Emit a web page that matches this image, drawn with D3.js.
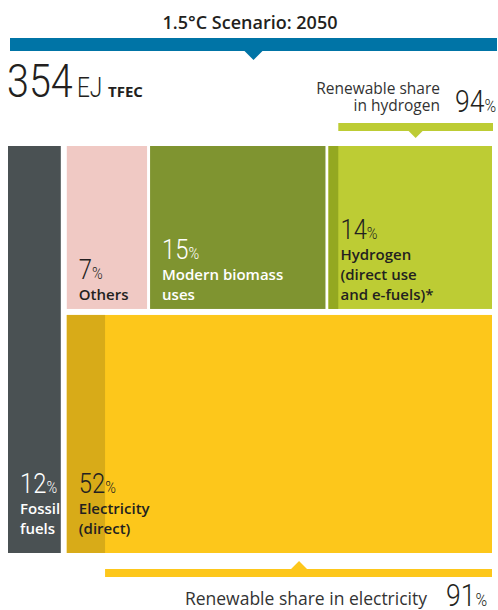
<!DOCTYPE html>
<html>
<head>
<meta charset="utf-8">
<script src="https://cdn.jsdelivr.net/npm/d3@7"></script>
<style>
  body { margin: 0; background: #fff; }
  svg { display: block; }
</style>
</head>
<body>
<svg width="498" height="610"></svg>
<script>
// values
var title = "1.5°C Scenario: 2050";
var totalEJ = 354;
var categories = ["fossil", "others", "biomass", "hydrogen", "electricity"];
var shares = [12, 7, 15, 14, 52];
var labels = [["Fossil", "fuels"], ["Others"], ["Modern biomass", "uses"],
              ["Hydrogen", "(direct use", "and e-fuels)*"], ["Electricity", "(direct)"]];
var colors = ["#4a5153", "#f0c9c4", "#7f9430", "#bdcc34", "#fdc71b"];
var darkColors = { hydrogen: "#94a821", electricity: "#d8ab18" };
var renewable = { hydrogen: 94, electricity: 91 };
var renewableLabels = { hydrogen: ["Renewable share", "in hydrogen"], electricity: ["Renewable share in electricity"] };
var whiteText = ["fossil", "biomass"];

var svg = d3.select("svg");
var W = 498;
var ink = "#231f20";
var numFont = "Roboto, sans-serif";
var txtFont = "'Open Sans', sans-serif";

function leaf(i) {
  return { name: categories[i], value: shares[i], idx: i };
}

var root = d3.hierarchy({
  children: [
    leaf(0),
    { children: [ { children: [leaf(1), leaf(2), leaf(3)] }, leaf(4) ] }
  ]
}).sum(function(d) { return d.value || 0; });

// chart area: x 8..492, y 146..553
d3.treemap()
  .tile(d3.treemapSliceDice)
  .size([484, 407])
  .paddingInner(function(n) { return n.depth === 2 ? 3 : 6; })
  (root);
root.each(function(n) { n.x0 += 8; n.x1 += 8; n.y0 += 146; n.y1 += 146; });

var leaves = root.leaves();
var byName = {};
leaves.forEach(function(d) { byName[d.data.name] = d; });

// title + blue bar
svg.append("text")
  .attr("x", W / 2 + 1).attr("y", 29)
  .attr("text-anchor", "middle")
  .attr("font-family", txtFont).attr("font-weight", 600)
  .attr("font-size", 18).attr("fill", ink)
  .text(title);

svg.append("rect").attr("x", 10).attr("y", 38).attr("width", 487).attr("height", 13).attr("fill", "#0074a6");
svg.append("path")
  .attr("d", "M" + (253.5 - 10) + ",50 L253.5,60 L" + (253.5 + 10) + ",50 Z")
  .attr("fill", "#0074a6");

// 354 EJ TFEC
var tot = svg.append("text")
  .attr("transform", "translate(7,97) scale(0.84,1)")
  .attr("font-family", numFont).attr("font-weight", 300).attr("fill", ink);
tot.append("tspan").attr("font-size", 47).text(totalEJ);
tot.append("tspan").attr("font-size", 27).attr("dx", 5).text("EJ");
svg.append("text")
  .attr("x", 108).attr("y", 97)
  .attr("font-family", txtFont).attr("font-weight", 700)
  .attr("font-size", 15).attr("fill", ink)
  .text("TFEC");

// blocks
svg.selectAll("rect.block")
  .data(leaves)
  .enter().append("rect")
  .attr("class", "block")
  .attr("x", function(d) { return d.x0; })
  .attr("y", function(d) { return d.y0; })
  .attr("width", function(d) { return d.x1 - d.x0; })
  .attr("height", function(d) { return d.y1 - d.y0; })
  .attr("fill", function(d) { return colors[d.data.idx]; });

// non renewable strips and renewable bars
Object.keys(renewable).forEach(function(k) {
  var d = byName[k];
  var x = d3.scaleLinear().domain([0, 100]).range([d.x0, d.x1]);
  var xs = x(100 - renewable[k]);
  svg.append("rect")
    .attr("x", d.x0).attr("y", d.y0)
    .attr("width", xs - d.x0).attr("height", d.y1 - d.y0)
    .attr("fill", darkColors[k]);

  var barCol = colors[d.data.idx];
  var mid = (xs + d.x1 + 1) / 2;
  if (k === "hydrogen") {
    var by = d.y0 - 23;
    svg.append("rect").attr("x", xs).attr("y", by).attr("width", d.x1 + 1 - xs).attr("height", 8).attr("fill", barCol);
    svg.append("path").attr("d", "M" + (mid - 8) + "," + (by + 7) + " L" + mid + "," + (by + 15) + " L" + (mid + 8) + "," + (by + 7) + " Z").attr("fill", barCol);
    var lt = svg.append("text")
      .attr("text-anchor", "end")
      .attr("font-family", txtFont).attr("font-size", 15.5).attr("fill", "#333");
    renewableLabels[k].forEach(function(s, i) {
      lt.append("tspan").attr("x", 440).attr("y", 94 + i * 17).text(s);
    });
    var pt = svg.append("text")
      .attr("transform", "translate(455,112) scale(0.83,1)")
      .attr("font-family", numFont).attr("font-weight", 300).attr("fill", ink);
    pt.append("tspan").attr("font-size", 32).text(renewable[k]);
    pt.append("tspan").attr("font-size", 19).text("%");
  } else {
    var by2 = d.y1 + 16;
    svg.append("rect").attr("x", xs).attr("y", by2).attr("width", d.x1 - xs).attr("height", 8).attr("fill", barCol);
    svg.append("path").attr("d", "M" + (mid - 9) + "," + (by2 + 1) + " L" + mid + "," + (by2 - 8) + " L" + (mid + 9) + "," + (by2 + 1) + " Z").attr("fill", barCol);
    svg.append("text")
      .attr("x", 427).attr("y", 605)
      .attr("text-anchor", "end")
      .attr("font-family", txtFont).attr("font-size", 17.5).attr("fill", "#333")
      .text(renewableLabels[k][0]);
    var pt2 = svg.append("text")
      .attr("transform", "translate(446,606) scale(0.83,1)")
      .attr("font-family", numFont).attr("font-weight", 300).attr("fill", ink);
    pt2.append("tspan").attr("font-size", 32).text(renewable[k]);
    pt2.append("tspan").attr("font-size", 19).text("%");
  }
});

// block labels
leaves.forEach(function(d) {
  var lines = labels[d.data.idx];
  var col = whiteText.indexOf(d.data.name) >= 0 ? "#fff" : ink;
  var bottom = d.y1 - (d.depth === 3 ? 9 : 19);
  var lx = d.x0 + 12;
  var top = bottom - (lines.length - 1) * 20;
  var t = svg.append("text")
    .attr("font-family", txtFont).attr("font-weight", 600)
    .attr("font-size", 15).attr("fill", col);
  lines.forEach(function(s, i) {
    t.append("tspan").attr("x", lx).attr("y", top + i * 20).text(s);
  });
  var p = svg.append("text")
    .attr("transform", "translate(" + lx + "," + (top - 21) + ") scale(0.85,1)")
    .attr("font-family", numFont).attr("font-weight", 300).attr("fill", col);
  p.append("tspan").attr("font-size", 28).text(d.data.value);
  p.append("tspan").attr("font-size", 17).text("%");
});
</script>
</body>
</html>
